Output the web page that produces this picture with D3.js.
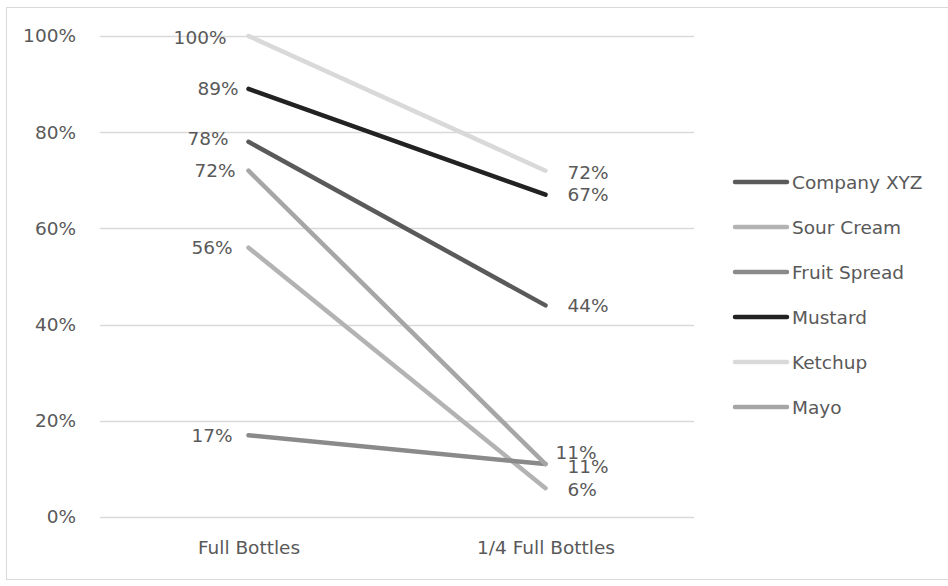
<!DOCTYPE html>
<html>
<head>
<meta charset="utf-8">
<script src="https://cdn.jsdelivr.net/npm/d3@7"></script>
<style>
  html, body { margin: 0; padding: 0; background: #fff; }
  svg { display: block; }
  text { font-family: "DejaVu Sans", sans-serif; fill: #595959; }
</style>
</head>
<body>
<svg id="chart" width="948" height="586"></svg>
<script>
// ---- data ----
const categories = ["Full Bottles", "1/4 Full Bottles"];
const seriesNames = ["Company XYZ", "Sour Cream", "Fruit Spread", "Mustard", "Ketchup", "Mayo"];
const companyXYZ = [0.78, 0.44];
const sourCream = [0.56, 0.06];
const fruitSpread = [0.17, 0.11];
const mustard = [0.89, 0.67];
const ketchup = [1.00, 0.72];
const mayo = [0.72, 0.11];
const yTicks = [0, 0.2, 0.4, 0.6, 0.8, 1.0];

// ---- styles / layout (not data) ----
const colors = ["#5a5a5a", "#b3b3b3", "#8a8a8a", "#222222", "#d9d9d9", "#a6a6a6"];
const leftLabelDx = { "Company XYZ": -20, "Sour Cream": -16, "Fruit Spread": -16, "Mustard": -10, "Ketchup": -22, "Mayo": -13 };
const leftLabelDy = { "Company XYZ": -3, "Ketchup": 1 };
const rightLabelDx = { "Fruit Spread": 12 };
const rightLabelDy = { "Fruit Spread": -12, "Ketchup": 2, "Mayo": 2, "Sour Cream": 1.5 };
const fontSize = "18.5px";

const seriesValues = [companyXYZ, sourCream, fruitSpread, mustard, ketchup, mayo];
const series = seriesNames.map((name, i) => ({ name, values: seriesValues[i], color: colors[i] }));

const svg = d3.select("#chart");
const plot = { left: 100, right: 694, top: 36, bottom: 517 };

// outer border
svg.append("rect")
  .attr("x", 6.5).attr("y", 7.5).attr("width", 950).attr("height", 572)
  .attr("fill", "none").attr("stroke", "#d9d9d9").attr("stroke-width", 1);

const x = d3.scalePoint().domain(categories).range([plot.left, plot.right]).padding(0.5);
const y = d3.scaleLinear().domain([0, 1]).range([plot.bottom, plot.top]);

// gridlines
svg.append("g").selectAll("line").data(yTicks).join("line")
  .attr("x1", plot.left).attr("x2", plot.right)
  .attr("y1", d => Math.round(y(d)) + 0.5).attr("y2", d => Math.round(y(d)) + 0.5)
  .attr("stroke", "#d9d9d9").attr("stroke-width", 1.3);

// y axis labels
const yAxis = d3.axisLeft(y).tickValues(yTicks).tickFormat(d3.format(".0%")).tickSize(0).tickPadding(0);
const ya = svg.append("g").attr("transform", `translate(${76},0)`).call(yAxis);
ya.select(".domain").remove();
ya.selectAll("text").style("font-size", fontSize).style("font-family", "DejaVu Sans, sans-serif").attr("fill", "#595959");

// x axis labels
const xAxis = d3.axisBottom(x).tickSize(0).tickPadding(0);
const xa = svg.append("g").attr("transform", `translate(0,${541})`).call(xAxis);
xa.select(".domain").remove();
xa.selectAll("text").style("font-size", fontSize).style("font-family", "DejaVu Sans, sans-serif").attr("fill", "#595959");

// lines
const line = d3.line().x((d, i) => x(categories[i])).y(d => y(d));
svg.append("g").selectAll("path").data(series).join("path")
  .attr("d", d => line(d.values))
  .attr("fill", "none")
  .attr("stroke", d => d.color)
  .attr("stroke-width", 4.5)
  .attr("stroke-linecap", "round")
  .attr("stroke-linejoin", "round");

// data labels
const fmt = d3.format(".0%");
const lbl = svg.append("g").style("font-size", fontSize);
series.forEach(s => {
  lbl.append("text")
    .attr("x", x(categories[0]) + (leftLabelDx[s.name] || -13))
    .attr("y", y(s.values[0]) + (leftLabelDy[s.name] || 0))
    .attr("text-anchor", "end")
    .attr("dominant-baseline", "central")
    .text(fmt(s.values[0]));
  lbl.append("text")
    .attr("x", x(categories[1]) + 22 - (rightLabelDx[s.name] || 0))
    .attr("y", y(s.values[1]) + (rightLabelDy[s.name] || 0))
    .attr("text-anchor", "start")
    .attr("dominant-baseline", "central")
    .text(fmt(s.values[1]));
});

// legend
const leg = svg.append("g");
series.forEach((s, i) => {
  const cy = 182 + i * 45;
  leg.append("line")
    .attr("x1", 735).attr("x2", 787).attr("y1", cy).attr("y2", cy)
    .attr("stroke", s.color).attr("stroke-width", 4.5).attr("stroke-linecap", "round");
  leg.append("text")
    .attr("x", 792).attr("y", cy)
    .attr("dominant-baseline", "central")
    .style("font-size", fontSize)
    .text(s.name);
});
</script>
</body>
</html>
